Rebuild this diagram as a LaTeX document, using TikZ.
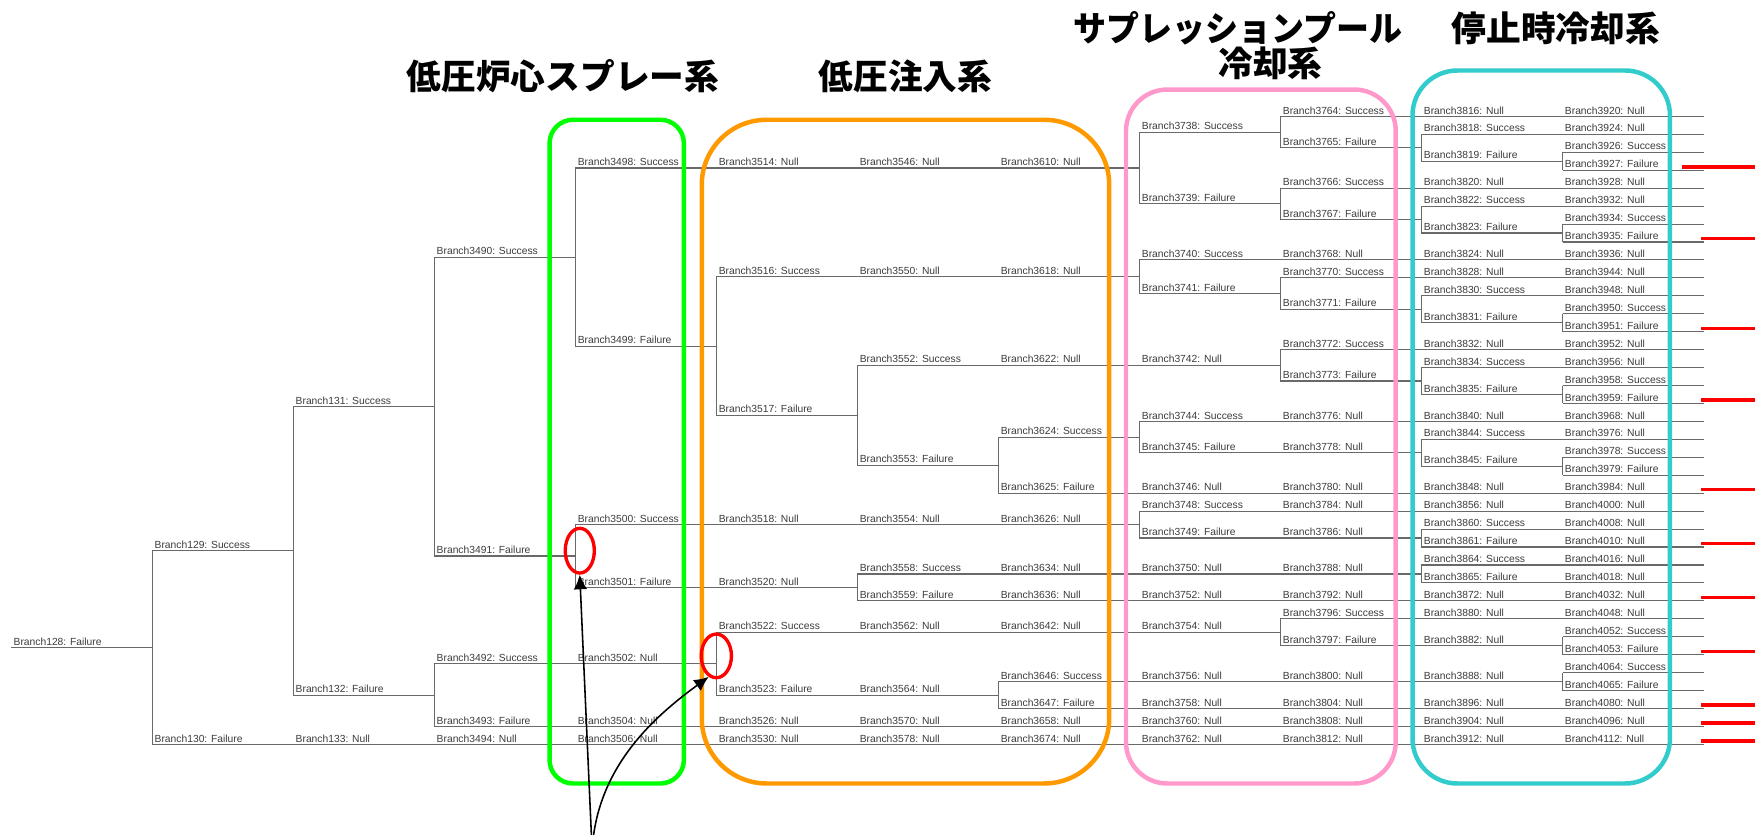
\documentclass[tikz,border=0pt]{standalone}
\usepackage{fontspec}
\newfontfamily\lblfont{Liberation Sans}
\newfontfamily\cjkfont{Noto Sans CJK JP}
\usetikzlibrary{shapes.geometric,arrows.meta}
\definecolor{treegray}{RGB}{105,105,105}
\definecolor{lblgray}{RGB}{60,60,60}
\definecolor{boxgreen}{RGB}{0,255,0}
\definecolor{boxorange}{RGB}{255,153,0}
\definecolor{boxpink}{RGB}{255,153,204}
\definecolor{boxteal}{RGB}{51,204,204}
\newcommand\mybr[4]{%
  \coordinate (b#1) at (#2,#3);
  \draw[treeline] (b#1) -- ++(126,0);
  \node[lbl] (l#1) at (b#1) {Branch#1: #4};
}
\newcommand\mysplit[2]{\draw[treeline] (b#1) -- (b#2);}
\newcommand\myred[2]{\draw[redmark] ([xshift=#2pt,yshift=3pt]b#1) -- ([xshift=175pt,yshift=3pt]b#1);}
\begin{document}
\begin{tikzpicture}[x=1pt,y=-1pt,
  treeline/.style={draw=treegray,line width=1pt},
  lbl/.style={anchor=south west,inner sep=0pt,xshift=2pt,yshift=1.8pt,text=lblgray,font=\lblfont\fontsize{9.2}{9.5}\selectfont},
  sysbox/.style={line width=4pt},
  titletext/.style={inner sep=0pt,font=\cjkfont\bfseries\fontsize{31}{33}\selectfont},
  redmark/.style={draw=red,line width=3pt},
  ring/.style={ellipse,draw=red,line width=3pt,inner sep=0pt},
  pointer/.style={draw=black,line width=1.4pt,-{Latex[length=13pt,width=12pt]}}]
\fill[white] (0,0) rectangle (1568,746);
\useasboundingbox (0,0) rectangle (1568,746);
% column 0
\mybr{128}{10}{578.6}{Failure}
% column 1
\mybr{129}{136}{492.1}{Success}
\mybr{130}{136}{665.1}{Failure}
% column 2
\mybr{131}{262}{363.2}{Success}
\mybr{132}{262}{621.0}{Failure}
\mybr{133}{262}{665.1}{Null}
% column 3
\mybr{3490}{388}{229.7}{Success}
\mybr{3491}{388}{496.8}{Failure}
\mybr{3492}{388}{593.0}{Success}
\mybr{3493}{388}{649.0}{Failure}
\mybr{3494}{388}{665.1}{Null}
% column 4
\mybr{3498}{514}{150.1}{Success}
\mybr{3499}{514}{309.2}{Failure}
\mybr{3500}{514}{468.7}{Success}
\mybr{3501}{514}{524.8}{Failure}
\mybr{3502}{514}{593.0}{Null}
\mybr{3504}{514}{649.0}{Null}
\mybr{3506}{514}{665.1}{Null}
% column 5
\mybr{3514}{640}{150.1}{Null}
\mybr{3516}{640}{247.3}{Success}
\mybr{3517}{640}{371.0}{Failure}
\mybr{3518}{640}{468.7}{Null}
\mybr{3520}{640}{524.8}{Null}
\mybr{3522}{640}{564.9}{Success}
\mybr{3523}{640}{621.0}{Failure}
\mybr{3526}{640}{649.0}{Null}
\mybr{3530}{640}{665.1}{Null}
% column 6
\mybr{3546}{766}{150.1}{Null}
\mybr{3550}{766}{247.3}{Null}
\mybr{3552}{766}{326.4}{Success}
\mybr{3553}{766}{415.6}{Failure}
\mybr{3554}{766}{468.7}{Null}
\mybr{3558}{766}{512.8}{Success}
\mybr{3559}{766}{536.8}{Failure}
\mybr{3562}{766}{564.9}{Null}
\mybr{3564}{766}{621.0}{Null}
\mybr{3570}{766}{649.0}{Null}
\mybr{3578}{766}{665.1}{Null}
% column 7
\mybr{3610}{892}{150.1}{Null}
\mybr{3618}{892}{247.3}{Null}
\mybr{3622}{892}{326.4}{Null}
\mybr{3624}{892}{390.5}{Success}
\mybr{3625}{892}{440.6}{Failure}
\mybr{3626}{892}{468.7}{Null}
\mybr{3634}{892}{512.8}{Null}
\mybr{3636}{892}{536.8}{Null}
\mybr{3642}{892}{564.9}{Null}
\mybr{3646}{892}{609.0}{Success}
\mybr{3647}{892}{633.0}{Failure}
\mybr{3658}{892}{649.0}{Null}
\mybr{3674}{892}{665.1}{Null}
% column 8
\mybr{3738}{1018}{118.0}{Success}
\mybr{3739}{1018}{182.1}{Failure}
\mybr{3740}{1018}{232.2}{Success}
\mybr{3741}{1018}{262.3}{Failure}
\mybr{3742}{1018}{326.4}{Null}
\mybr{3744}{1018}{376.5}{Success}
\mybr{3745}{1018}{404.6}{Failure}
\mybr{3746}{1018}{440.6}{Null}
\mybr{3748}{1018}{456.7}{Success}
\mybr{3749}{1018}{480.7}{Failure}
\mybr{3750}{1018}{512.8}{Null}
\mybr{3752}{1018}{536.8}{Null}
\mybr{3754}{1018}{564.9}{Null}
\mybr{3756}{1018}{609.0}{Null}
\mybr{3758}{1018}{633.0}{Null}
\mybr{3760}{1018}{649.0}{Null}
\mybr{3762}{1018}{665.1}{Null}
% column 9
\mybr{3764}{1144}{104.0}{Success}
\mybr{3765}{1144}{132.1}{Failure}
\mybr{3766}{1144}{168.1}{Success}
\mybr{3767}{1144}{196.2}{Failure}
\mybr{3768}{1144}{232.2}{Null}
\mybr{3770}{1144}{248.3}{Success}
\mybr{3771}{1144}{276.3}{Failure}
\mybr{3772}{1144}{312.4}{Success}
\mybr{3773}{1144}{340.4}{Failure}
\mybr{3776}{1144}{376.5}{Null}
\mybr{3778}{1144}{404.6}{Null}
\mybr{3780}{1144}{440.6}{Null}
\mybr{3784}{1144}{456.7}{Null}
\mybr{3786}{1144}{480.7}{Null}
\mybr{3788}{1144}{512.8}{Null}
\mybr{3792}{1144}{536.8}{Null}
\mybr{3796}{1144}{552.8}{Success}
\mybr{3797}{1144}{576.9}{Failure}
\mybr{3800}{1144}{609.0}{Null}
\mybr{3804}{1144}{633.0}{Null}
\mybr{3808}{1144}{649.0}{Null}
\mybr{3812}{1144}{665.1}{Null}
% column 10
\mybr{3816}{1270}{104.0}{Null}
\mybr{3818}{1270}{120.0}{Success}
\mybr{3819}{1270}{144.1}{Failure}
\mybr{3820}{1270}{168.1}{Null}
\mybr{3822}{1270}{184.2}{Success}
\mybr{3823}{1270}{208.2}{Failure}
\mybr{3824}{1270}{232.2}{Null}
\mybr{3828}{1270}{248.3}{Null}
\mybr{3830}{1270}{264.3}{Success}
\mybr{3831}{1270}{288.4}{Failure}
\mybr{3832}{1270}{312.4}{Null}
\mybr{3834}{1270}{328.4}{Success}
\mybr{3835}{1270}{352.5}{Failure}
\mybr{3840}{1270}{376.5}{Null}
\mybr{3844}{1270}{392.5}{Success}
\mybr{3845}{1270}{416.6}{Failure}
\mybr{3848}{1270}{440.6}{Null}
\mybr{3856}{1270}{456.7}{Null}
\mybr{3860}{1270}{472.7}{Success}
\mybr{3861}{1270}{488.7}{Failure}
\mybr{3864}{1270}{504.8}{Success}
\mybr{3865}{1270}{520.8}{Failure}
\mybr{3872}{1270}{536.8}{Null}
\mybr{3880}{1270}{552.8}{Null}
\mybr{3882}{1270}{576.9}{Null}
\mybr{3888}{1270}{609.0}{Null}
\mybr{3896}{1270}{633.0}{Null}
\mybr{3904}{1270}{649.0}{Null}
\mybr{3912}{1270}{665.1}{Null}
% column 11 (leaves)
\mybr{3920}{1396}{104.0}{Null}
\mybr{3924}{1396}{120.0}{Null}
\mybr{3926}{1396}{136.1}{Success}
\mybr{3927}{1396}{152.1}{Failure}
\mybr{3928}{1396}{168.1}{Null}
\mybr{3932}{1396}{184.2}{Null}
\mybr{3934}{1396}{200.2}{Success}
\mybr{3935}{1396}{216.2}{Failure}
\mybr{3936}{1396}{232.2}{Null}
\mybr{3944}{1396}{248.3}{Null}
\mybr{3948}{1396}{264.3}{Null}
\mybr{3950}{1396}{280.3}{Success}
\mybr{3951}{1396}{296.4}{Failure}
\mybr{3952}{1396}{312.4}{Null}
\mybr{3956}{1396}{328.4}{Null}
\mybr{3958}{1396}{344.5}{Success}
\mybr{3959}{1396}{360.5}{Failure}
\mybr{3968}{1396}{376.5}{Null}
\mybr{3976}{1396}{392.5}{Null}
\mybr{3978}{1396}{408.6}{Success}
\mybr{3979}{1396}{424.6}{Failure}
\mybr{3984}{1396}{440.6}{Null}
\mybr{4000}{1396}{456.7}{Null}
\mybr{4008}{1396}{472.7}{Null}
\mybr{4010}{1396}{488.7}{Null}
\mybr{4016}{1396}{504.8}{Null}
\mybr{4018}{1396}{520.8}{Null}
\mybr{4032}{1396}{536.8}{Null}
\mybr{4048}{1396}{552.8}{Null}
\mybr{4052}{1396}{568.9}{Success}
\mybr{4053}{1396}{584.9}{Failure}
\mybr{4064}{1396}{600.9}{Success}
\mybr{4065}{1396}{617.0}{Failure}
\mybr{4080}{1396}{633.0}{Null}
\mybr{4096}{1396}{649.0}{Null}
\mybr{4112}{1396}{665.1}{Null}
% splits
\mysplit{129}{130}
\mysplit{131}{132}
\mysplit{3490}{3491}
\mysplit{3492}{3493}
\mysplit{3498}{3499}
\mysplit{3500}{3501}
\mysplit{3516}{3517}
\mysplit{3522}{3523}
\mysplit{3552}{3553}
\mysplit{3558}{3559}
\mysplit{3624}{3625}
\mysplit{3646}{3647}
\mysplit{3738}{3739}
\mysplit{3740}{3741}
\mysplit{3744}{3745}
\mysplit{3748}{3749}
\mysplit{3764}{3765}
\mysplit{3766}{3767}
\mysplit{3770}{3771}
\mysplit{3772}{3773}
\mysplit{3796}{3797}
\mysplit{3818}{3819}
\mysplit{3822}{3823}
\mysplit{3830}{3831}
\mysplit{3834}{3835}
\mysplit{3844}{3845}
\mysplit{3860}{3861}
\mysplit{3864}{3865}
\mysplit{3926}{3927}
\mysplit{3934}{3935}
\mysplit{3950}{3951}
\mysplit{3958}{3959}
\mysplit{3978}{3979}
\mysplit{4052}{4053}
\mysplit{4064}{4065}
% system boxes
\draw[sysbox,draw=boxgreen,rounded corners=21pt] (491,107) rectangle (611,700);
\draw[sysbox,draw=boxorange,rounded corners=58pt] (627,107) rectangle (991,700);
\draw[sysbox,draw=boxpink,rounded corners=37pt] (1006,80) rectangle (1247,700);
\draw[sysbox,draw=boxteal,rounded corners=40pt] (1262,63) rectangle (1492,700);
% titles
\node[titletext] (t1) at (503,68) {低圧炉心スプレー系};
\node[titletext] (t2) at (809,68) {低圧注入系};
\node[titletext,xscale=0.95] (t3) at (1106,25) {サプレッションプール};
\node[titletext] (t4) at (1135,57) {冷却系};
\node[titletext] (t5) at (1390,25) {停止時冷却系};
% red marks at the right
\myred{3927}{107}
\myred{3935}{124}
\myred{3951}{124}
\myred{3959}{124}
\myred{3984}{124}
\myred{4010}{124}
\myred{4032}{124}
\myred{4053}{124}
\myred{4080}{124}
\myred{4096}{124}
\myred{4112}{124}
% red rings and pointers
\node[ring,minimum width=26pt,minimum height=40pt] (e1) at (518,492) {};
\node[ring,minimum width=27pt,minimum height=39pt] (e2) at (640,586) {};
\coordinate (a0) at (529,760);
\draw[pointer] (a0) -- (e1.south);
\draw[pointer] (a0) .. controls (533,685) and (585,640) .. (e2.250);
\end{tikzpicture}
\end{document}
